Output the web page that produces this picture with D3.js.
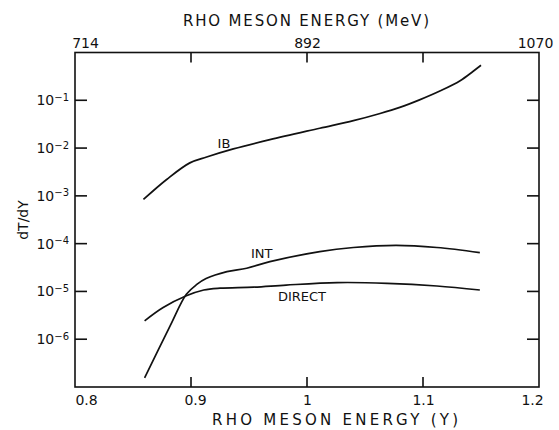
<!DOCTYPE html>
<html>
<head>
<meta charset="utf-8">
<script src="https://cdn.jsdelivr.net/npm/d3@7"></script>
<style>
  body { margin: 0; background: #fff; }
  svg { display: block; font-family: "DejaVu Sans", sans-serif; }
</style>
</head>
<body>
<svg id="chart" width="559" height="430"></svg>
<script>
// values
const energyTicks = [0.8, 0.9, 1.0, 1.1, 1.2];
const mevTicks = [714, 803, 892, 981, 1070];
const mevLabels = [714, 892, 1070];
const decadeTicks = [1e-1, 1e-2, 1e-3, 1e-4, 1e-5, 1e-6];

const ibX = [0.859, 0.879, 0.899, 0.9135, 0.9365, 0.968, 1.011, 1.040, 1.063, 1.080, 1.097, 1.115, 1.132, 1.143, 1.150];
const ibY = [8.4e-4, 2.2e-3, 4.9e-3, 6.5e-3, 9.6e-3, 1.5e-2, 2.6e-2, 3.75e-2, 5.3e-2, 7.1e-2, 1.02e-1, 1.58e-1, 2.57e-1, 4.0e-1, 5.4e-1];

const intX = [0.860, 0.882, 0.896, 0.905, 0.913, 0.931, 0.948, 0.968, 1.011, 1.040, 1.077, 1.112, 1.149];
const intY = [1.55e-7, 1.9e-6, 8.7e-6, 1.4e-5, 1.86e-5, 2.6e-5, 3.05e-5, 4.2e-5, 6.8e-5, 8.3e-5, 9.2e-5, 8.3e-5, 6.5e-5];

const directX = [0.860, 0.876, 0.896, 0.911, 0.925, 0.954, 0.982, 1.026, 1.069, 1.112, 1.149];
const directY = [2.42e-6, 4.6e-6, 8.1e-6, 1.07e-5, 1.17e-5, 1.23e-5, 1.36e-5, 1.53e-5, 1.48e-5, 1.30e-5, 1.07e-5];

const curveNames = ['IB', 'INT', 'DIRECT'];
const labelX = [0.9284, 0.961, 0.9957];
const labelY = [1.24e-2, 6.3e-5, 7.9e-6];

const svg = d3.select('#chart');
const plotLeft = 75, plotRight = 539, plotTop = 52.5, plotBottom = 387;

const x = d3.scaleLinear().domain([0.8, 1.2]).range([plotLeft, plotRight]);
const xMev = d3.scaleLinear().domain([714, 1070]).range([plotLeft, plotRight]);
const y = d3.scaleLog().domain([1e-7, 1]).range([plotBottom, plotTop]);

const ink = '#111';

// frame
svg.append('rect')
  .attr('x', plotLeft).attr('y', plotTop)
  .attr('width', plotRight - plotLeft).attr('height', plotBottom - plotTop)
  .attr('fill', 'none').attr('stroke', ink).attr('stroke-width', 1.6);

// bottom axis
const labelShift = [11, 4, 0, 0, -7];
const gb = svg.append('g')
  .attr('transform', `translate(0,${plotBottom})`)
  .call(d3.axisBottom(x).tickValues(energyTicks).tickSize(0).tickPadding(8)
    .tickFormat(d => d === 1 ? '1' : d3.format('.1f')(d)));
gb.selectAll('.tick text').attr('dx', (d, i) => labelShift[i]);

// top axis (MeV)
const mevShift = { 714: 10, 892: 0, 1070: -4 };
const gt = svg.append('g')
  .attr('transform', `translate(0,${plotTop})`)
  .call(d3.axisTop(xMev).tickValues(mevTicks).tickSize(0).tickPadding(5)
    .tickFormat(d => mevLabels.includes(d) ? d : ''));
gt.selectAll('.tick text').attr('dx', d => mevShift[d] || 0);

// left axis
const gl = svg.append('g')
  .attr('transform', `translate(${plotLeft},0)`)
  .call(d3.axisLeft(y).tickValues(decadeTicks).tickSize(0).tickPadding(6).tickFormat(() => ''));
gl.selectAll('.tick text').each(function (d) {
  const t = d3.select(this);
  t.text('10');
  t.append('tspan').attr('font-size', 10).attr('dy', '-0.45em').text('\u2212' + Math.round(-Math.log10(d)));
});

svg.selectAll('.domain').remove();
svg.selectAll('.tick line').remove();
svg.selectAll('.tick text').attr('fill', ink).attr('font-size', 14).attr('font-family', '"DejaVu Sans", sans-serif');

// inward tick marks, drawn as thin rects
const tickRects = [
  ...energyTicks.slice(1, -1).map(v => [x(v) - 0.8, plotBottom - 10, 1.6, 10]),
  ...mevTicks.slice(1, -1).map(v => [xMev(v) - 0.8, plotTop, 1.6, 10]),
  ...decadeTicks.map(v => [plotLeft, y(v) - 0.8, 12, 1.6]),
  ...decadeTicks.map(v => [plotRight - 12, y(v) - 0.8, 12, 1.6])
];
svg.append('g').selectAll('rect')
  .data(tickRects)
  .join('rect')
  .attr('x', d => d[0]).attr('y', d => d[1])
  .attr('width', d => d[2]).attr('height', d => d[3])
  .attr('fill', ink);

// curves
const line = d3.line().x(d => x(d[0])).y(d => y(d[1])).curve(d3.curveCatmullRom.alpha(0.5));
const series = [d3.zip(ibX, ibY), d3.zip(intX, intY), d3.zip(directX, directY)];
svg.append('g').selectAll('path')
  .data(series)
  .join('path')
  .attr('d', line)
  .attr('fill', 'none')
  .attr('stroke', ink)
  .attr('stroke-width', 1.7);

// curve labels
svg.append('g').selectAll('text')
  .data(curveNames)
  .join('text')
  .attr('x', (d, i) => x(labelX[i]))
  .attr('y', (d, i) => y(labelY[i]))
  .attr('dy', '0.35em')
  .attr('text-anchor', 'middle')
  .attr('font-size', 13)
  .attr('fill', ink)
  .text(d => d);

// titles
svg.append('text')
  .attr('x', 335).attr('y', 425)
  .attr('text-anchor', 'middle')
  .attr('font-size', 15)
  .attr('textLength', 246).attr('lengthAdjust', 'spacing')
  .attr('fill', ink)
  .text('RHO MESON ENERGY (Y)');

svg.append('text')
  .attr('x', 306).attr('y', 26)
  .attr('text-anchor', 'middle')
  .attr('font-size', 15)
  .attr('textLength', 246).attr('lengthAdjust', 'spacing')
  .attr('fill', ink)
  .text('RHO MESON ENERGY (MeV)');

svg.append('text')
  .attr('transform', 'translate(28,220) rotate(-90)')
  .attr('text-anchor', 'middle')
  .attr('font-size', 14)
  .attr('fill', ink)
  .text('dT/dY');
</script>
</body>
</html>
